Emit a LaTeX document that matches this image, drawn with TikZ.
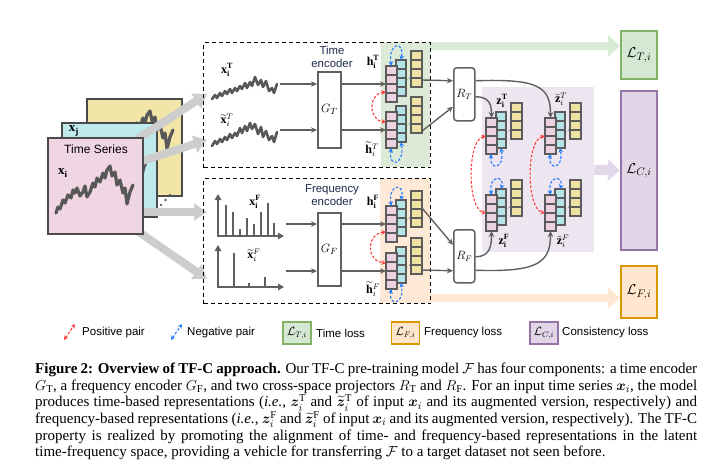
\documentclass[tikz,border=0pt]{standalone}
\usepackage{amsmath}
\usepackage{bm}
\usepackage{fontspec}
\setmainfont{Liberation Serif}
\newfontfamily\lsans{Liberation Sans}
\usetikzlibrary{arrows.meta,calc}
\definecolor{cgray}{HTML}{606060}
\definecolor{sqgray}{HTML}{585858}
\definecolor{cardline}{HTML}{4A4A4A}
\definecolor{stkline}{HTML}{5C5C5C}
\definecolor{posred}{HTML}{FF3B3B}
\definecolor{negblue}{HTML}{1E7BFF}
\definecolor{cpink}{HTML}{F0D5E3}
\definecolor{ccyan}{HTML}{BEEAEE}
\definecolor{cyellow}{HTML}{F1E6A7}
\definecolor{spink}{HTML}{EDD3E1}
\definecolor{scyan}{HTML}{B5E4E8}
\definecolor{syellow}{HTML}{F0E2A2}
\definecolor{gfill}{HTML}{D5E8D4}
\definecolor{gline}{HTML}{82B366}
\definecolor{pfill}{HTML}{E1D5E7}
\definecolor{pline}{HTML}{9673A6}
\definecolor{ofill}{HTML}{FFE6CC}
\definecolor{oline}{HTML}{D79B00}
\definecolor{greg}{HTML}{DEEAD8}
\definecolor{oreg}{HTML}{FDE9D6}
\definecolor{preg}{HTML}{EDE5F0}
\definecolor{bandg}{HTML}{D9EAD6}
\definecolor{bando}{HTML}{FFE8D2}
\definecolor{bandp}{HTML}{E3D8E9}
\definecolor{encblue}{HTML}{1F2A4D}
\definecolor{lgray}{HTML}{CDCDCD}

\newcommand\tswave[1]{\draw[#1] (56,213) -- (58,207) -- (60,209) -- (63,200) -- (65,203) -- (68,195) -- (71,198) -- (73,190) -- (75,193) -- (77,188) -- (80,196) -- (83,192) -- (85,186) -- (87,197) -- (90,192) -- (93,183) -- (95,187) -- (97,178) -- (100,182) -- (103,173) -- (105,178) -- (107,170) -- (110,166) -- (112,176) -- (115,172) -- (117,185) -- (120,180) -- (123,193) -- (125,188) -- (127,204) -- (130,192) -- (133,185);}

\newcommand\embcol[4]{%
  \filldraw[fill=#4, draw=stkline, line width=1.7pt] (#1,#2) rectangle ++(#3,36);
  \foreach \k in {9,18,27} {\draw[stkline, line width=1.1pt] (#1,#2+\k) -- ++(#3,0);}
}
\newcommand\embstack[3]{%
  \begin{scope}[shift={(#1,#2)}]
    \embcol{25}{-15}{11}{syellow}
    \embcol{10}{-6}{10}{scyan}
    \draw[cgray, line width=0.9pt, dotted] (20.5,14) -- (25,11);
    \embcol{0}{0}{11}{spink}
    \coordinate (#3-in) at (0,18);
    \coordinate (#3-o) at (36,3);
    \coordinate (#3-pt) at (5.5,0);
    \coordinate (#3-ct) at (15,-6);
    \coordinate (#3-pb) at (5.5,36);
    \coordinate (#3-cb) at (15,30);
  \end{scope}}

\begin{document}
\begin{tikzpicture}[x=1pt,y=-1pt,
  card/.style={draw=cardline, line width=1.8pt, inner sep=0pt, anchor=north west},
  tsl/.style={draw=sqgray, line width=3.2pt, line join=round, line cap=round},
  insq/.style={draw=sqgray, line width=2.6pt, line join=round, line cap=round},
  gband/.style={draw=lgray, line width=8pt, -{Triangle[length=13pt,width=17pt]}},
  lband/.style={line width=8pt, -{Triangle[length=12pt,width=21pt]}},
  conn/.style={draw=cgray, line width=1.4pt, -{Stealth[length=6pt,width=5.5pt]}},
  axisl/.style={draw=cgray, line width=2.2pt, -{Triangle[length=6pt,width=6.5pt]}},
  barl/.style={draw=cgray, line width=2.2pt},
  enc/.style={draw=cgray, line width=1.5pt, fill=white, inner sep=0pt, anchor=north west, font=\fontsize{13}{15}\selectfont},
  proj/.style={enc, rounded corners=3pt, font=\fontsize{12}{14}\selectfont},
  lbl/.style={inner sep=0pt, font=\fontsize{12}{14}\selectfont},
  enclbl/.style={inner sep=0pt, align=center, text=encblue, font=\lsans\fontsize{11.4}{13}\selectfont},
  region/.style={draw=none, inner sep=0pt, anchor=north west},
  dbox/.style={draw=black, line width=1.2pt, dash pattern=on 4pt off 3pt, inner sep=0pt, anchor=north west},
  pospair/.style={draw=posred, line width=1.1pt, dash pattern=on 2.6pt off 1.8pt, {Stealth[length=4.5pt,width=4.5pt]}-{Stealth[length=4.5pt,width=4.5pt]}},
  negpair/.style={pospair, draw=negblue},
  bigloss/.style={line width=2pt, inner sep=0pt, anchor=north west, minimum width=36, font=\fontsize{15}{17}\selectfont},
  legloss/.style={line width=1.8pt, inner sep=0pt, minimum width=28, minimum height=22, font=\fontsize{12}{14}\selectfont},
  legtxt/.style={inner sep=0pt, anchor=west, font=\lsans\fontsize{11.5}{13}\selectfont}
]
\useasboundingbox (0,0) rectangle (711,472);
\fill[white] (0,0) rectangle (711,472);

% ---------------- time series cards ----------------
\node[card, fill=cyellow, minimum width=95, minimum height=97] (cardY) at (86,98) {};
\begin{scope}[shift={(40,-55)}]\tswave{tsl}\end{scope}
\node[card, fill=ccyan, minimum width=95, minimum height=94] (cardC) at (61,122) {};
\begin{scope}[shift={(14,-25)}]\tswave{tsl}\end{scope}
\node[inner sep=0pt, font=\fontsize{13}{15}\selectfont] (lxj) at (74,131) {$\mathbf{x}_{\mathbf{j}}$};
\fill[cgray] (161,205) circle (1.3) (165.5,200) circle (1.3) (170,195) circle (1.3);

\coordinate (gb1s) at (136,140); \coordinate (gb1e) at (207,94);
\coordinate (gb2s) at (136,163); \coordinate (gb2e) at (207,140);
\coordinate (gb3s) at (136,212); \coordinate (gb3e) at (207,212);
\coordinate (gb4s) at (136,230); \coordinate (gb4e) at (207,279);
\draw[gband] (gb1s) -- (gb1e);
\draw[gband] (gb2s) -- (gb2e);
\draw[gband] (gb3s) -- (gb3e);
\draw[gband] (gb4s) -- (gb4e);

\node[card, fill=cpink, minimum width=95, minimum height=96] (cardP) at (47,137) {};
\tswave{tsl}
\node[inner sep=0pt, font=\lsans\fontsize{12}{14}\selectfont] (lts) at (96,149) {Time Series};
\node[inner sep=0pt, font=\fontsize{13}{15}\selectfont] (lxi) at (63,173) {$\mathbf{x}_{\mathbf{i}}$};

% ---------------- regions and bands ----------------
\node[region, fill=greg, minimum width=49, minimum height=125] (greenreg) at (381,42) {};
\node[region, fill=oreg, minimum width=50, minimum height=125] (orangereg) at (380,178) {};
\node[region, fill=preg, minimum width=112, minimum height=165] (purplereg) at (482,87) {};

\node[bigloss, draw=gline, fill=gfill, minimum height=48] (LT) at (620,30) {$\mathcal{L}_{T,i}$};
\node[bigloss, draw=pline, fill=pfill, minimum height=159] (LC) at (620,90) {$\mathcal{L}_{C,i}$};
\node[bigloss, draw=oline, fill=ofill, minimum height=52] (LF) at (620,265) {$\mathcal{L}_{F,i}$};

\coordinate (bgs) at (426,46);
\coordinate (bos) at (426,298);
\draw[lband, draw=bandg] (bgs) -- (bgs -| LT.west);
\draw[lband, draw=bando] (bos) -- (bos -| LF.west);
\draw[line width=10pt, draw=bandp, -{Triangle[length=12pt,width=21pt]}] (purplereg.east) -- (LC.west);

% ---------------- dashed boxes ----------------
\node[dbox, minimum width=227, minimum height=125] (tbox) at (203,42) {};
\node[dbox, minimum width=227, minimum height=125] (fbox) at (203,178) {};

% ---------------- time inputs ----------------
\draw[insq] (212,99) -- (215,95) -- (217,98) -- (220,93) -- (222,96) -- (225,91) -- (227,94) -- (230,89) -- (232,93) -- (235,88) -- (237,91) -- (240,86) -- (242,89) -- (245,83) -- (247,88) -- (250,82) -- (252,86) -- (255,77) -- (258,85) -- (261,80) -- (263,87) -- (266,81) -- (269,91) -- (272,88) -- (274,93) -- (277,84);
\draw[insq] (212,146) -- (215,141) -- (217,144) -- (220,139) -- (222,142) -- (225,137) -- (227,140) -- (230,134) -- (232,138) -- (235,133) -- (237,136) -- (240,128) -- (242,133) -- (245,126) -- (247,131) -- (250,123) -- (252,129) -- (255,124) -- (258,134) -- (261,127) -- (263,137) -- (266,131) -- (269,140) -- (272,136) -- (274,142) -- (277,132);
\node[lbl] (lxT) at (227,70) {$\mathbf{x}_{\mathbf{i}}^{\mathbf{T}}$};
\node[lbl] (lxTt) at (227,120) {$\widetilde{\mathbf{x}}_{i}^{T}$};

% ---------------- frequency inputs ----------------
\draw[axisl] (218,236) -- (218,194);
\draw[axisl] (217,236) -- (284,236);
\foreach \bx/\bt in {226/205, 233/212, 240/229, 247/218, 254/224, 261/212, 268/203, 274/223}
  {\draw[barl] (\bx,236) -- (\bx,\bt);}
\draw[axisl] (218,287) -- (218,245);
\draw[axisl] (217,287) -- (284,287);
\foreach \bx/\bt in {234/253, 249/283, 265/277}
  {\draw[barl] (\bx,287) -- (\bx,\bt);}
\node[lbl] (lxF) at (255,202) {$\mathbf{x}_{\mathbf{i}}^{\mathbf{F}}$};
\node[lbl] (lxFt) at (254,255) {$\widetilde{\mathbf{x}}_{i}^{F}$};

% ---------------- encoders ----------------
\node[enclbl] (tenc) at (332,56.5) {Time\\encoder};
\node[enclbl] (fenc) at (332,195) {Frequency\\encoder};
\node[enc, minimum width=23, minimum height=76] (GT) at (317,71) {$G_T$};
\node[enc, minimum width=23, minimum height=73] (GF) at (317,212) {$G_F$};

% ---------------- stacks ----------------
\embstack{386}{66}{hT}
\embstack{386}{112}{hTt}
\embstack{386}{206}{hF}
\embstack{386}{253}{hFt}
\embstack{486}{118}{zT}
\embstack{545}{118}{zTt}
\embstack{486}{195}{zF}
\embstack{545}{195}{zFt}

\node[lbl] (lhT) at (373,62) {$\mathbf{h}_{\mathbf{i}}^{\mathbf{T}}$};
\node[lbl] (lhTt) at (372,149) {$\widetilde{\mathbf{h}}_{i}^{T}$};
\node[lbl] (lhF) at (373,202) {$\mathbf{h}_{\mathbf{i}}^{\mathbf{F}}$};
\node[lbl] (lhFt) at (373,289) {$\widetilde{\mathbf{h}}_{i}^{F}$};
\node[lbl] (lzT) at (502,101) {$\mathbf{z}_{\mathbf{i}}^{\mathbf{T}}$};
\node[lbl] (lzTt) at (561,99) {$\tilde{\mathbf{z}}_{i}^{T}$};
\node[lbl] (lzF) at (504,241) {$\mathbf{z}_{\mathbf{i}}^{\mathbf{F}}$};
\node[lbl] (lzFt) at (563,241) {$\tilde{\mathbf{z}}_{i}^{F}$};

% ---------------- projectors ----------------
\node[proj, minimum width=21, minimum height=53] (RT) at (453,67) {$R_T$};
\node[proj, minimum width=21, minimum height=53] (RF) at (453,229) {$R_F$};

% ---------------- connectors ----------------
\coordinate (sT1) at (280,84);
\coordinate (sT2) at (280,130);
\coordinate (sF1) at (286,224);
\coordinate (sF2) at (286,271);
\draw[conn] (sT1) -- (sT1 -| GT.west);
\draw[conn] (sT2) -- (sT2 -| GT.west);
\draw[conn] (GT.east |- hT-in) -- (hT-in);
\draw[conn] (GT.east |- hTt-in) -- (hTt-in);
\draw[conn] (sF1) -- (sF1 -| GF.west);
\draw[conn] (sF2) -- (sF2 -| GF.west);
\draw[conn] (GF.east |- hF-in) -- (hF-in);
\draw[conn] (GF.east |- hFt-in) -- (hFt-in);

\draw[conn] ($(hT-o)+(0,11)$) -- ($(RT.west)+(0,-13.5)$);
\draw[conn] ($(hTt-o)+(0,16)$) -- ($(RT.west)+(0,12.5)$);
\draw[conn] ($(hF-o)+(0,-1)$) -- ($(RF.west)+(0,-11.5)$);
\draw[conn] ($(hFt-o)+(0,14)$) -- ($(RF.west)+(0,14.5)$);

\draw[conn] ($(RT.east)+(0,-13.5)$) .. controls +(62,-2) and +(0,-32) .. (zTt-pt);
\draw[conn] ($(RT.east)+(0,2.5)$) .. controls +(15,0) and +(0,-12) .. (zT-pt);
\draw[conn] ($(RF.east)+(0,0.5)$) .. controls +(15,0) and +(0,14) .. (zF-pb);
\draw[conn] ($(RF.east)+(0,14)$) .. controls +(62,2) and +(0,32) .. (zFt-pb);

% ---------------- positive / negative pairs ----------------
\draw[pospair] ($(hT-in)+(0,8)$) .. controls +(-18,2) and +(-18,-2) .. ($(hTt-in)+(0,-8)$);
\draw[pospair] ($(hF-in)+(0,8)$) .. controls +(-20,2) and +(-20,-2) .. ($(hFt-in)+(0,-8)$);
\draw[pospair] (zT-in) .. controls +(-19,4) and +(-19,-4) .. (zF-in);
\draw[pospair] (zTt-in) .. controls +(-19,4) and +(-19,-4) .. (zFt-in);

\draw[negpair] (hT-pt) .. controls +(-4,-24) and +(4,-20) .. (hT-ct);
\draw[negpair] (hTt-pb) .. controls +(-4,20) and +(4,24) .. (hTt-cb);
\draw[negpair] (hF-pt) .. controls +(-4,-22) and +(4,-18) .. (hF-ct);
\draw[negpair] (hFt-pb) .. controls +(-4,18) and +(4,22) .. (hFt-cb);
\draw[negpair] (zT-pb) .. controls +(-3,16) and +(4,22) .. (zT-cb);
\draw[negpair] (zF-pt) .. controls +(-3,-20) and +(4,-14) .. (zF-ct);
\draw[negpair] (zTt-pb) .. controls +(-3,16) and +(4,22) .. (zTt-cb);
\draw[negpair] (zFt-pt) .. controls +(-3,-20) and +(4,-14) .. (zFt-ct);

% ---------------- legend ----------------
\coordinate (lpa) at (64,340); \coordinate (lpb) at (75,324);
\coordinate (lna) at (171,340); \coordinate (lnb) at (182,324);
\draw[pospair] (lpa) -- (lpb);
\draw[negpair] (lna) -- (lnb);
\node[legtxt] (tpos) at (82,333) {Positive pair};
\node[legtxt] (tneg) at (187,333) {Negative pair};
\node[legloss, draw=gline, fill=gfill] (legT) at (297,333) {$\mathcal{L}_{T,i}$};
\node[legtxt] (ttl) at (316,333) {Time loss};
\node[legloss, draw=oline, fill=ofill] (legF) at (405.5,333) {$\mathcal{L}_{F,i}$};
\node[legtxt] (tfl) at (424,333) {Frequency loss};
\node[legloss, draw=pline, fill=pfill] (legC) at (544,333) {$\mathcal{L}_{C,i}$};
\node[legtxt] (tcl) at (562,333) {Consistency loss};

% ---------------- caption ----------------
\node[anchor=north west, inner sep=0pt, font=\fontsize{15}{16.6}\selectfont] (caption) at (35,363) {\vbox{\baselineskip=16.6pt\lineskiplimit=-20pt\lineskip=0pt
\hbox to 662pt{{\bfseries Figure 2: Overview of TF-C approach.} Our TF-C pre-training model $\mathcal{F}$ has four components: a time encoder}
\hbox to 662pt{$G_{\mathrm{T}}$, a frequency encoder $G_{\mathrm{F}}$, and two cross-space projectors $R_{\mathrm{T}}$ and $R_{\mathrm{F}}$. For an input time series $\bm{x}_i$, the model}
\hbox to 662pt{produces time-based representations (\textit{i.e.}, $\bm{z}_i^{\mathrm{T}}$ and $\widetilde{\bm{z}}_i^{\mathrm{T}}$ of input $\bm{x}_i$ and its augmented version, respectively) and}
\hbox to 662pt{frequency-based representations (\textit{i.e.}, $\bm{z}_i^{\mathrm{F}}$ and $\widetilde{\bm{z}}_i^{\mathrm{F}}$ of input $\bm{x}_i$ and its augmented version, respectively). The TF-C}
\hbox to 662pt{property is realized by promoting the alignment of time- and frequency-based representations in the latent}
\hbox to 662pt{time-frequency space, providing a vehicle for transferring $\mathcal{F}$ to a target dataset not seen before.\hfill}}};
\end{tikzpicture}
\end{document}
